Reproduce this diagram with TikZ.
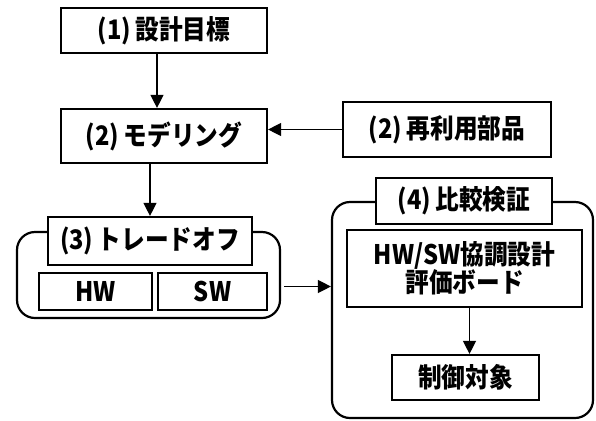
\documentclass[tikz,border=0pt]{standalone}
\usepackage{fontspec}
\setmainfont{Noto Sans CJK JP}[BoldFont={* Black}, FakeStretch=0.88]
\usetikzlibrary{arrows.meta}
\begin{document}
\begin{tikzpicture}[x=1bp,y=-1bp,
  box/.style={draw, line width=2.2bp, fill=white, inner sep=0pt, align=center,
    font=\fontsize{27}{28}\selectfont\bfseries},
  cont/.style={draw, line width=2.2bp, rounded corners=18bp, inner sep=0pt},
  arr/.style={line width=1.3bp, -{Triangle[length=13bp,width=13bp]}}]
\useasboundingbox (0,0) rectangle (596,420);
% containers
\node[cont, minimum width=263bp, minimum height=86bp] (c3) at (148.5,275) {};
\node[cont, minimum width=261bp, minimum height=216bp] (c4) at (462.5,310) {};
% boxes
\node[box, minimum width=206bp, minimum height=45bp] (g) at (164,30.5) {(1)\,設計目標};
\node[box, minimum width=206bp, minimum height=54bp] (m) at (164,136) {(2)\,モデリング};
\node[box, minimum width=208bp, minimum height=55bp] (r) at (447,129.5) {(2)\,再利用部品};
\node[box, minimum width=204bp, minimum height=48bp] (t) at (150,241) {(3)\,トレードオフ};
\node[box, minimum width=113bp, minimum height=37bp] (hw) at (95.5,291.5) {HW};
\node[box, minimum width=109bp, minimum height=37bp] (sw) at (212.5,291.5) {SW};
\node[box, minimum width=176bp, minimum height=46bp] (v) at (464,201) {(4)\,比較検証};
\node[box, minimum width=235bp, minimum height=77bp] (e) at (464.5,268.5) {HW/SW協調設計\\評価ボード};
\node[box, minimum width=147bp, minimum height=45bp] (ctl) at (465.5,377.5) {制御対象};
% connectors
\draw[arr] ([xshift=-7bp]g.south) -- ([xshift=-7bp]m.north);
\draw[arr] (r.west) -- (r.west -| m.east);
\draw[arr] (m.south -| t.north) -- (t.north);
\draw[arr] ([xshift=3bp,yshift=5bp]c3.east |- sw.east) -- ([yshift=5bp]c4.west |- sw.east);
\draw[arr] ([xshift=5bp]e.south) -- ([xshift=5bp]e.south |- ctl.north);
\end{tikzpicture}
\end{document}
